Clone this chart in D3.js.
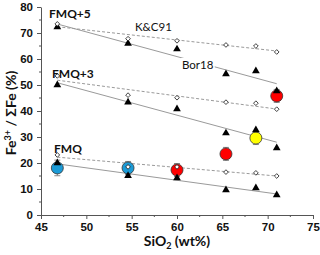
<!DOCTYPE html>
<html>
<head>
<meta charset="utf-8">
<script src="https://cdn.jsdelivr.net/npm/d3@7"></script>
<style>
  html, body { margin: 0; padding: 0; background: #fff; }
  svg { display: block; font-family: Lato, "Open Sans", sans-serif; }
</style>
</head>
<body>
<div id="chart"></div>
<script>
const WIDTH = 320;
const HEIGHT = 255;

// SiO2 (wt%) of the six compositions
const SIO2 = [46.8, 54.6, 60.0, 65.4, 68.7, 71.0];

// K&C91 model (open diamonds)
const KC91_FMQ5 = [73.5, 67.8, 67.0, 65.4, 65.0, 62.7];
const KC91_FMQ3 = [53.5, 46.1, 45.1, 43.4, 43.0, 40.7];
const KC91_FMQ = [23.1, 18.5, 18.5, 16.5, 16.2, 15.0];

// Bor18 model (filled triangles)
const BOR18_FMQ5 = [72.3, 66.0, 63.8, 54.2, 55.4, 47.7];
const BOR18_FMQ3 = [50.0, 43.4, 40.8, 31.5, 32.7, 25.8];
const BOR18_FMQ = [20.0, 15.1, 14.2, 9.6, 10.4, 7.7];

// measured glasses (coloured circles with error bars)
const MEAS_SIO2 = [46.8, 54.6, 60.0, 65.4, 68.7, 71.0];
const MEAS_FE = [18.1, 18.1, 17.3, 23.5, 29.6, 45.8];
const MEAS_ERR = [3.0, 2.5, 2.5, 2.5, 2.5, 2.5];
const MEAS_COLOR = ["#1b9bd7", "#1b9bd7", "#ff0000", "#ff0000", "#ffff00", "#ff0000"];

const X_TICKS = [45, 50, 55, 60, 65, 70, 75];
const Y_TICKS = [0, 10, 20, 30, 40, 50, 60, 70, 80];

const x = d3.scaleLinear().domain([45, 75]).range([41, 313]);
const y = d3.scaleLinear().domain([0, 80]).range([215, 7]);

function fit(xs, ys) {
  const mx = d3.mean(xs), my = d3.mean(ys);
  const sxy = d3.sum(xs, (v, i) => (v - mx) * (ys[i] - my));
  const sxx = d3.sum(xs, (v) => (v - mx) * (v - mx));
  const b = sxy / sxx;
  return (v) => my + b * (v - mx);
}

const svg = d3.select("#chart").append("svg")
  .attr("width", WIDTH).attr("height", HEIGHT);

// axes
const xAxis = d3.axisBottom(x).tickValues(X_TICKS).tickSize(4).tickSizeOuter(0).tickPadding(4);
const yAxis = d3.axisLeft(y).tickValues(Y_TICKS).tickSize(4).tickSizeOuter(0).tickPadding(4);

const gx = svg.append("g").attr("transform", `translate(0,${y(0)})`).call(xAxis);
const gy = svg.append("g").attr("transform", `translate(${x(45)},0)`).call(yAxis);

// minor ticks
const xMinor = d3.range(47.5, 75, 5);
const yMinor = d3.range(5, 80, 10);
gx.selectAll("line.minor").data(xMinor).join("line").attr("class", "minor")
  .attr("x1", (d) => x(d)).attr("x2", (d) => x(d)).attr("y1", 0).attr("y2", 2);
gy.selectAll("line.minor").data(yMinor).join("line").attr("class", "minor")
  .attr("y1", (d) => y(d)).attr("y2", (d) => y(d)).attr("x1", 0).attr("x2", -2);

[gx, gy].forEach((g) => {
  g.select(".domain").attr("stroke", "#555");
  g.selectAll("line").attr("stroke", "#555");
  g.selectAll("text").attr("font-size", 11.5).attr("font-weight", 700).attr("fill", "#111");
});

// trend lines
const groups = [
  { kc: KC91_FMQ5, bor: BOR18_FMQ5 },
  { kc: KC91_FMQ3, bor: BOR18_FMQ3 },
  { kc: KC91_FMQ, bor: BOR18_FMQ },
];
const x0 = d3.min(SIO2), x1 = d3.max(SIO2);
groups.forEach((gr) => {
  const fk = fit(SIO2, gr.kc);
  const fb = fit(SIO2, gr.bor);
  svg.append("line")
    .attr("x1", x(x0)).attr("x2", x(x1)).attr("y1", y(fk(x0))).attr("y2", y(fk(x1)))
    .attr("stroke", "#9a9a9a").attr("stroke-width", 1).attr("stroke-dasharray", "3,2");
  svg.append("line")
    .attr("x1", x(x0)).attr("x2", x(x1)).attr("y1", y(fb(x0))).attr("y2", y(fb(x1)))
    .attr("stroke", "#9a9a9a").attr("stroke-width", 1);
});

// error bars
const err = svg.append("g").attr("stroke", "#8a8a8a").attr("stroke-width", 1);
MEAS_SIO2.forEach((s, i) => {
  const cx = x(s), lo = y(MEAS_FE[i] - MEAS_ERR[i]), hi = y(MEAS_FE[i] + MEAS_ERR[i]);
  err.append("line").attr("x1", cx).attr("x2", cx).attr("y1", lo).attr("y2", hi);
  err.append("line").attr("x1", cx - 3).attr("x2", cx + 3).attr("y1", lo).attr("y2", lo);
  err.append("line").attr("x1", cx - 3).attr("x2", cx + 3).attr("y1", hi).attr("y2", hi);
});

// measured circles
svg.append("g").selectAll("circle")
  .data(MEAS_SIO2)
  .join("circle")
  .attr("cx", (d) => x(d))
  .attr("cy", (d, i) => y(MEAS_FE[i]))
  .attr("r", 6)
  .attr("fill", (d, i) => MEAS_COLOR[i])
  .attr("stroke", "#333")
  .attr("stroke-width", 0.8);

// triangles (Bor18)
const tri = d3.symbol().type(d3.symbolTriangle).size(26);
[BOR18_FMQ5, BOR18_FMQ3, BOR18_FMQ].forEach((vals) => {
  svg.append("g").selectAll("path")
    .data(vals)
    .join("path")
    .attr("d", tri)
    .attr("transform", (d, i) => `translate(${x(SIO2[i])},${y(d)})`)
    .attr("fill", "#000");
});

// diamonds (K&C91)
const dia = d3.symbol().type(d3.symbolDiamond2).size(14);
[KC91_FMQ5, KC91_FMQ3, KC91_FMQ].forEach((vals) => {
  svg.append("g").selectAll("path")
    .data(vals)
    .join("path")
    .attr("d", dia)
    .attr("transform", (d, i) => `translate(${x(SIO2[i])},${y(d)})`)
    .attr("fill", "#fff")
    .attr("stroke", "#111")
    .attr("stroke-width", 0.8);
});

// group labels
const labels = [
  { t: "FMQ+5", x: 49, y: 18 },
  { t: "FMQ+3", x: 52, y: 78 },
  { t: "FMQ", x: 54, y: 153 },
];
svg.selectAll("text.grp").data(labels).join("text").attr("class", "grp")
  .attr("x", (d) => d.x).attr("y", (d) => d.y)
  .attr("font-size", 12).attr("font-weight", 700).attr("fill", "#111")
  .text((d) => d.t);

svg.append("text").attr("x", 135).attr("y", 31)
  .attr("font-size", 11.5).attr("fill", "#111").text("K&C91");

const bor = svg.append("text").attr("x", 182).attr("y", 69)
  .attr("font-size", 11.5).attr("fill", "#111").text("Bor18");
const bb = bor.node().getBBox();
svg.insert("rect", () => bor.node())
  .attr("x", bb.x - 1).attr("y", bb.y).attr("width", bb.width + 2).attr("height", bb.height)
  .attr("fill", "#fff");

// axis titles
const yt = svg.append("text")
  .attr("transform", `translate(16,${(y(0) + y(80)) / 2 + 2}) rotate(-90)`)
  .attr("text-anchor", "middle")
  .attr("font-size", 14).attr("font-weight", 700).attr("fill", "#111");
yt.append("tspan").text("Fe");
yt.append("tspan").attr("font-size", 9).attr("dy", -5).text("3+");
yt.append("tspan").attr("dy", 5).text(" / ΣFe (%)");

const xt = svg.append("text")
  .attr("x", (x(45) + x(75)) / 2).attr("y", 246)
  .attr("text-anchor", "middle")
  .attr("font-size", 14).attr("font-weight", 700).attr("fill", "#111");
xt.append("tspan").text("SiO");
xt.append("tspan").attr("font-size", 9).attr("dy", 3).text("2");
xt.append("tspan").attr("dy", -3).text(" (wt%)");
</script>
</body>
</html>
